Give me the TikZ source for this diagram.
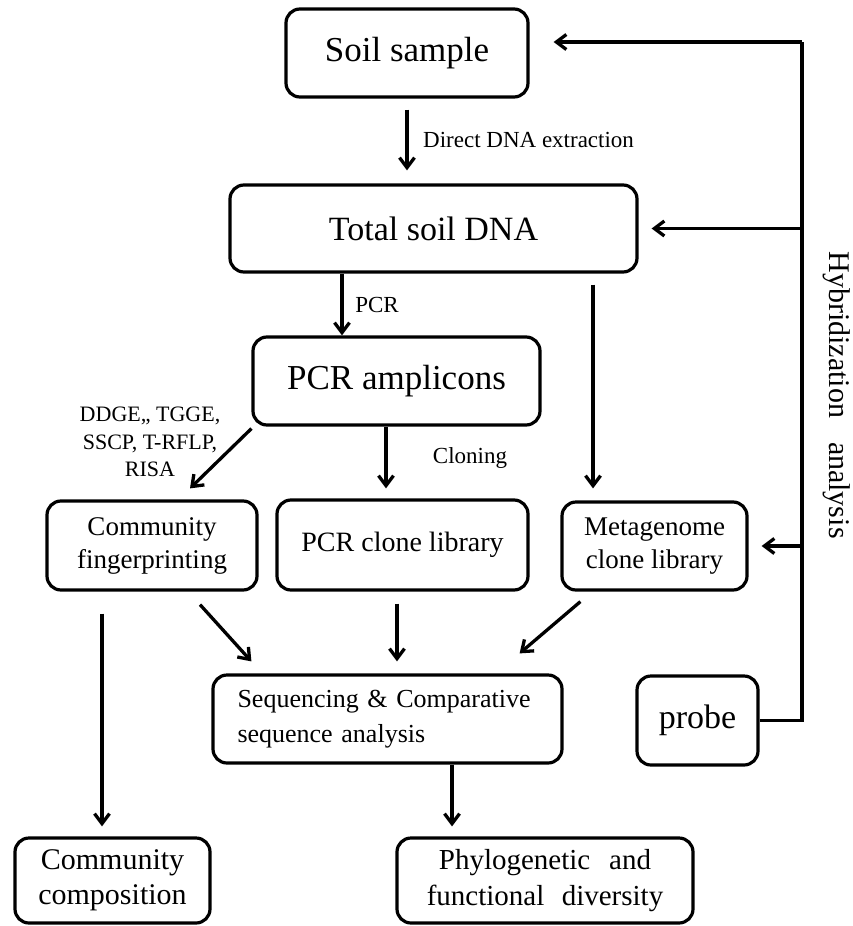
\documentclass[tikz,border=0pt]{standalone}
\usepackage{fontspec}
\setmainfont{Liberation Serif}
\usetikzlibrary{arrows.meta,calc}
\newcommand{\fs}[2]{\fontsize{#1}{#2}\selectfont}
\begin{document}
\begin{tikzpicture}[x=1pt,y=-1pt,
  box/.style={draw, line width=3.2pt, rounded corners=14pt, inner sep=0pt, align=center},
  lbl/.style={inner sep=0pt, align=center},
  arr/.style={line width=3.3pt, -{Straight Barb[length=10pt,width=15pt]}},
  ln/.style={line width=3.3pt}]
\useasboundingbox (0,0) rectangle (853,926);
% boxes
\node[box, minimum width=242pt, minimum height=88pt, font=\fs{35}{40}] (soil) at (407,53) {Soil sample};
\node[box, minimum width=407pt, minimum height=87pt, font=\fs{34}{40}] (total) at (433.5,228.5) {Total soil DNA};
\node[box, minimum width=287pt, minimum height=88pt, font=\fs{35}{40}] (amp) at (396.5,381) {PCR amplicons};
\node[box, minimum width=210pt, minimum height=89pt, font=\fs{27}{33}] (cf) at (152,545.5) {Community\\fingerprinting};
\node[box, minimum width=251pt, minimum height=90pt, font=\fs{28}{33}] (clone) at (402.5,545) {PCR clone library};
\node[box, minimum width=185pt, minimum height=88pt, font=\fs{27}{33}] (meta) at (654.5,546) {Metagenome\\clone library};
\node[box, minimum width=349pt, minimum height=88pt, font=\fs{26}{35}, text width=300pt, align=left] (seq) at (387.5,719) {Sequencing \& Comparative\\sequence analysis};
\node[box, minimum width=121pt, minimum height=89pt, font=\fs{34}{40}] (probe) at (697.5,720.5) {probe};
\node[box, minimum width=195pt, minimum height=85pt, font=\fs{30}{35}] (cc) at (112.5,880.5) {Community\\composition};
\node[box, minimum width=296pt, minimum height=85pt, font=\fs{29}{36}] (phylo) at (545,880.5) {Phylogenetic\hspace{0.65em}and\\functional\hspace{0.6em}diversity};
% labels
\node[lbl, anchor=west, font=\fs{23}{28}] (ldirect) at (423,140) {Direct DNA extraction};
\node[lbl, font=\fs{23}{28}] (lpcr) at (377,305) {PCR};
\node[lbl, font=\fs{23}{28}] (lclon) at (470,458) {Cloning};
\node[lbl, font=\fs{22}{27.5}] (lddge) at (150,442) {DDGE,, TGGE,\\SSCP, T-RFLP,\\RISA};
\node[lbl, rotate=-90, font=\fs{30}{36}] (lhyb) at (837,395) {Hybridization\hspace{0.8em}analysis};
% helper coordinates
\coordinate (a1) at ($(amp.north)+(-54.5,0)$);
\coordinate (m1) at ($(meta.north)+(-61.5,0)$);
\coordinate (c1) at ($(clone.north)+(-16.5,0)$);
\coordinate (k1) at ($(cc.north)+(-10.5,0)$);
\coordinate (p1) at ($(phylo.north)+(-93,0)$);
\coordinate (vtop) at (802,42);
% connectors
\draw[arr, shorten <=11pt, shorten >=13pt] (soil.south) -- (soil.south |- total.north);
\draw[arr] (a1 |- total.south) -- (a1);
\draw[arr, shorten <=11pt, shorten >=12pt] (m1 |- total.south) -- (m1);
\draw[arr] ($(amp.south west)+(0,2)$) -- ($(cf.north)+(38,-11)$);
\draw[arr, shorten >=10pt] (c1 |- amp.south) -- (c1);
\draw[arr, shorten <=22pt, shorten >=10pt] (k1 |- cf.south) -- (k1);
\draw[arr] ($(cf.south)+(48,13)$) -- ($(seq.north west)+(40,-12)$);
\draw[arr] ($(clone.south)+(-5.5,12)$) -- ($(seq.north)+(9.5,-12)$);
\draw[arr] ($(meta.south west)+(20,10)$) -- ($(seq.north east)+(-44,-20)$);
\draw[arr, shorten >=10pt] (p1 |- seq.south) -- (p1);
% hybridization
\draw[ln, line join=miter] (probe.east) -| (vtop);
\draw[arr, shorten >=24pt] (vtop) -- (vtop -| soil.east);
\draw[arr, shorten >=13pt] (vtop |- total.east) -- (total.east);
\draw[arr, shorten >=13pt] (vtop |- meta.east) -- (meta.east);
\end{tikzpicture}
\end{document}
